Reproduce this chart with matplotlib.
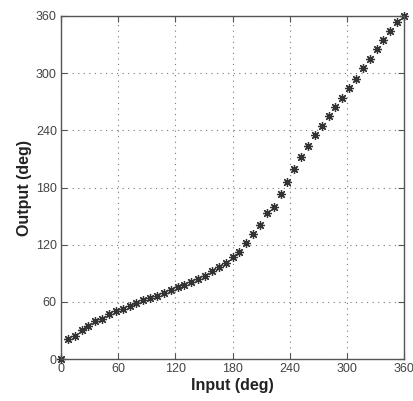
import numpy as np
import matplotlib

matplotlib.use("Agg")
import matplotlib.pyplot as plt  # noqa: E402

plt.rcParams["font.family"] = ["Liberation Sans", "DejaVu Sans"]

# input angle (deg), sampled every 7.2 deg
input_deg = np.arange(51) * 7.2
output_deg = [
    0, 20.7, 24.5, 30, 34.5, 39.5, 42.5, 47, 50.3, 53,
    56, 58.8, 61.5, 64, 66.5, 69.5, 72.4, 75.2, 77.7, 80.5,
    83.6, 87.5, 92.6, 96.2, 101, 106.7, 112.6, 121.4, 131, 140.6,
    153.5, 160, 172.8, 185.8, 199, 211.6, 223.5, 235, 244.5, 255,
    264, 274, 284, 294, 305, 314.5, 325, 334.6, 344, 353.7,
    360,
]
ticks = [0, 60, 120, 180, 240, 300, 360]

fig = plt.figure(figsize=(4.13, 4.01), dpi=100)
ax = fig.add_axes([61 / 413, 42 / 401, 343 / 413, 343 / 401])

ax.plot(input_deg, output_deg, linestyle="none", marker=(8, 2, 0),
        markersize=6.5, markeredgewidth=0.9, color="#333333", clip_on=False)

ax.set_xlim(0, 360)
ax.set_ylim(0, 360)
ax.set_xticks(ticks)
ax.set_yticks(ticks)
ax.grid(True, linestyle=(0, (1, 4)), color="#777777", linewidth=0.8)
ax.tick_params(direction="in", top=True, right=True, length=4,
               labelsize=9, labelcolor="#444444", color="#555555", pad=3)
for s in ax.spines.values():
    s.set_color("#555555")
    s.set_linewidth(1.0)

ax.set_xlabel("Input (deg)", fontsize=11.5, fontweight="bold", color="#222222", labelpad=2)
ax.set_ylabel("Output (deg)", fontsize=11.5, fontweight="bold", color="#222222", labelpad=3)

fig.savefig("out.png", dpi=100)
